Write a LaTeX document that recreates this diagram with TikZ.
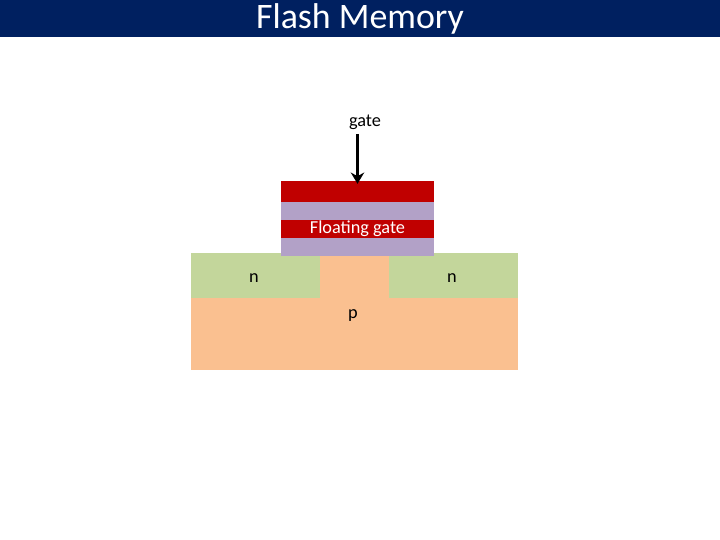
\documentclass[tikz,border=0pt]{standalone}
\usepackage{xcolor}
\usepackage{fontspec}
\setmainfont{Carlito}
\definecolor{fmnavy}{RGB}{0,32,96}
\definecolor{fmred}{RGB}{192,0,0}
\definecolor{fmlavender}{RGB}{178,161,199}
\definecolor{fmgreen}{RGB}{195,214,155}
\definecolor{fmorange}{RGB}{250,192,144}
\usetikzlibrary{arrows.meta, positioning}
\tikzset{
  layerbox/.style={minimum width=3.825cm, inner sep=0pt, outer sep=0pt},
  celllabel/.style={font=\fontsize{13}{15}\selectfont, text=black}
}

\begin{document}
\begin{tikzpicture}
\useasboundingbox (0,0) rectangle (18,13.5);

% === Title bar ===
\fill[fmnavy] (0,12.575) rectangle (18,13.5);
\node[font=\fontsize{25.5}{28}\selectfont, text=white] (title) at (9,13.025) {Flash Memory};

% === Substrate ===
\fill[fmorange] (4.775,4.25) rectangle (12.95,7.175);
\fill[fmgreen] (4.775,6.05) rectangle (8.0,7.175);
\fill[fmgreen] (9.725,6.05) rectangle (12.95,7.175);
\node[celllabel] (nleft) at (6.35,6.55) {n};
\node[celllabel] (nright) at (11.3,6.55) {n};
\node[celllabel] (pbody) at (8.825,5.62) {p};

% === Gate stack ===
\node[layerbox, fill=fmlavender, minimum height=0.45cm] (oxidelow) at (8.9375,7.325) {};
\node[layerbox, fill=fmred, minimum height=0.45cm, font=\fontsize{13}{15}\selectfont, text=white] (floatgate) at (8.9375,7.775) {Floating gate};
\node[layerbox, fill=fmlavender, minimum height=0.45cm] (oxidehigh) at (8.9375,8.225) {};
\node[layerbox, fill=fmred, minimum height=0.525cm] (ctrlgate) at (8.9375,8.7125) {};

% === Gate arrow ===
\node[celllabel] (gatelabel) at (9.125,10.44) {gate};
\coordinate (gatetail) at (8.9375,10.15);
\draw[-{Stealth[length=8pt,width=9.5pt]}, line width=2.8pt, black, shorten >=-2pt] (gatetail) -- (ctrlgate.north);

\end{tikzpicture}
\end{document}
